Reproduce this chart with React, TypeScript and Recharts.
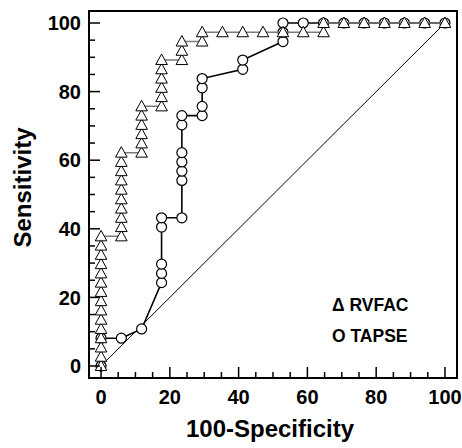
import {
  ReferenceArea,
  ReferenceLine,
  Scatter,
  ScatterChart,
  XAxis,
  YAxis,
} from "recharts";

// ROC points (x = 100-specificity, y = sensitivity)
const rvfacFpr = [
  0, 0, 0, 0, 0, 0, 0, 0, 0, 0, 0, 0, 0, 0, 0,
  5.9, 5.9, 5.9, 5.9, 5.9, 5.9, 5.9, 5.9, 5.9, 5.9,
  11.8, 11.8, 11.8, 11.8, 11.8, 11.8,
  17.6, 17.6, 17.6, 17.6, 17.6, 17.6,
  23.5, 23.5, 23.5,
  29.4, 29.4,
  35.3, 41.2, 47.1, 52.9, 58.8, 64.7, 64.7,
  70.6, 76.5, 82.4, 88.2, 94.1, 100,
];
const rvfacSens = [
  0, 2.7, 5.4, 8.1, 10.8, 13.5, 16.2, 18.9, 21.6, 24.3, 27.0, 29.7, 32.4, 35.1, 37.8,
  37.8, 40.5, 43.2, 45.9, 48.6, 51.4, 54.1, 56.8, 59.5, 62.2,
  62.2, 64.9, 67.6, 70.3, 73.0, 75.7,
  75.7, 78.4, 81.1, 83.8, 86.5, 89.2,
  89.2, 91.9, 94.6,
  94.6, 97.3,
  97.3, 97.3, 97.3, 97.3, 97.3, 97.3, 100,
  100, 100, 100, 100, 100, 100,
];

const tapseFpr = [
  0, 0, 5.9, 11.8,
  17.6, 17.6, 17.6, 17.6, 17.6,
  23.5, 23.5, 23.5, 23.5, 23.5, 23.5, 23.5,
  29.4, 29.4, 29.4, 29.4,
  41.2, 41.2,
  52.9, 52.9, 52.9,
  58.8, 64.7, 70.6, 76.5, 82.4, 88.2, 94.1, 100,
];
const tapseSens = [
  0, 8.1, 8.1, 10.8,
  24.3, 27.0, 29.7, 40.5, 43.2,
  43.2, 54.1, 56.8, 59.5, 62.2, 70.3, 73.0,
  73.0, 75.7, 81.1, 83.8,
  86.5, 89.2,
  94.6, 97.3, 100,
  100, 100, 100, 100, 100, 100, 100, 100,
];

const axisTicks = [0, 5, 10, 15, 20, 25, 30, 35, 40, 45, 50, 55, 60, 65, 70, 75, 80, 85, 90, 95, 100];
const domain: [number, number] = [-3.5, 103.5];

const rvfac = rvfacFpr.map((x, i) => ({ x, y: rvfacSens[i] }));
const tapse = tapseFpr.map((x, i) => ({ x, y: tapseSens[i] }));

const FONT = "'Liberation Sans', Arial, Helvetica, sans-serif";

const Triangle = (p: any) => {
  const { cx, cy } = p;
  return (
    <path
      d={`M${cx},${cy - 6}L${cx + 5.8},${cy + 4.5}L${cx - 5.8},${cy + 4.5}Z`}
      fill="#fff"
      stroke="#000"
      strokeWidth={1}
    />
  );
};

const Circle = (p: any) => (
  <circle cx={p.cx} cy={p.cy} r={5} fill="#fff" stroke="#000" strokeWidth={1.2} />
);

// ticks point into the plot; labels only on the multiples of 20
const XTick = (p: any) => {
  const { x, y, payload } = p;
  const major = payload.value % 20 === 0;
  return (
    <g>
      <line x1={x} x2={x} y1={y} y2={y - (major ? 11 : 6)} stroke="#000" strokeWidth={1.5} />
      {major && (
        <text x={x} y={y + 19} dy="0.36em" textAnchor="middle" fontFamily={FONT} fontWeight="bold" fontSize={20} fill="#000">
          {payload.value}
        </text>
      )}
    </g>
  );
};

const YTick = (p: any) => {
  const { x, y, payload } = p;
  const major = payload.value % 20 === 0;
  return (
    <g>
      <line x1={x} x2={x + (major ? 11 : 6)} y1={y} y2={y} stroke="#000" strokeWidth={1.5} />
      {major && (
        <text x={x - 8} y={y} dy="0.36em" textAnchor="end" fontFamily={FONT} fontWeight="bold" fontSize={20} fill="#000">
          {payload.value}
        </text>
      )}
    </g>
  );
};

export default function App() {
  return (
    <>
      <style>{"body{margin:0}"}</style>
      <ScatterChart width={462} height={448} margin={{ top: 11, right: 5, bottom: 10, left: 0 }}>
        <XAxis
          type="number"
          dataKey="x"
          domain={domain}
          allowDataOverflow
          ticks={axisTicks}
          interval={0}
          tickSize={0}
          tickMargin={0}
          tickLine={false}
          tick={<XTick />}
          height={60}
          axisLine={{ stroke: "#000", strokeWidth: 2 }}
          label={{
            value: "100-Specificity",
            content: ({ viewBox }: any) => (
              <text
                x={viewBox.x + viewBox.width / 2 - 3}
                y={viewBox.y + 59}
                textAnchor="middle"
                fontFamily={FONT}
                fontWeight="bold"
                fontSize={24}
                fill="#000"
              >
                100-Specificity
              </text>
            ),
          }}
        />
        <YAxis
          type="number"
          dataKey="y"
          domain={domain}
          allowDataOverflow
          ticks={axisTicks}
          interval={0}
          tickSize={0}
          tickMargin={0}
          tickLine={false}
          tick={<YTick />}
          width={89}
          axisLine={{ stroke: "#000", strokeWidth: 2 }}
          label={{
            value: "Sensitivity",
            content: ({ viewBox }: any) => {
              const cx = 22;
              const cy = viewBox.y + viewBox.height / 2 - 7;
              return (
                <text
                  x={cx}
                  y={cy}
                  transform={`rotate(-90, ${cx}, ${cy})`}
                  dy="0.36em"
                  textAnchor="middle"
                  fontFamily={FONT}
                  fontWeight="bold"
                  fontSize={24}
                  fill="#000"
                >
                  Sensitivity
                </text>
              );
            },
          }}
        />
        <ReferenceArea x1={domain[0]} x2={domain[1]} y1={domain[0]} y2={domain[1]} fill="none" stroke="#000" strokeWidth={2} />
        <ReferenceLine segment={[{ x: 0, y: 0 }, { x: 100, y: 100 }]} stroke="#000" strokeWidth={1} />
        <Scatter
          name="TAPSE"
          data={tapse}
          line={{ stroke: "#000", strokeWidth: 1.6 }}
          shape={<Circle />}
          isAnimationActive={false}
        />
        <Scatter
          name="RVFAC"
          data={rvfac}
          line={{ stroke: "#7a7a7a", strokeWidth: 1.5 }}
          shape={<Triangle />}
          isAnimationActive={false}
        />
        <text x={332} y={311} fontFamily={FONT} fontWeight="bold" fontSize={17.5} fill="#000">
          Δ RVFAC
        </text>
        <text x={332} y={342} fontFamily={FONT} fontWeight="bold" fontSize={17.5} fill="#000">
          O TAPSE
        </text>
      </ScatterChart>
    </>
  );
}
